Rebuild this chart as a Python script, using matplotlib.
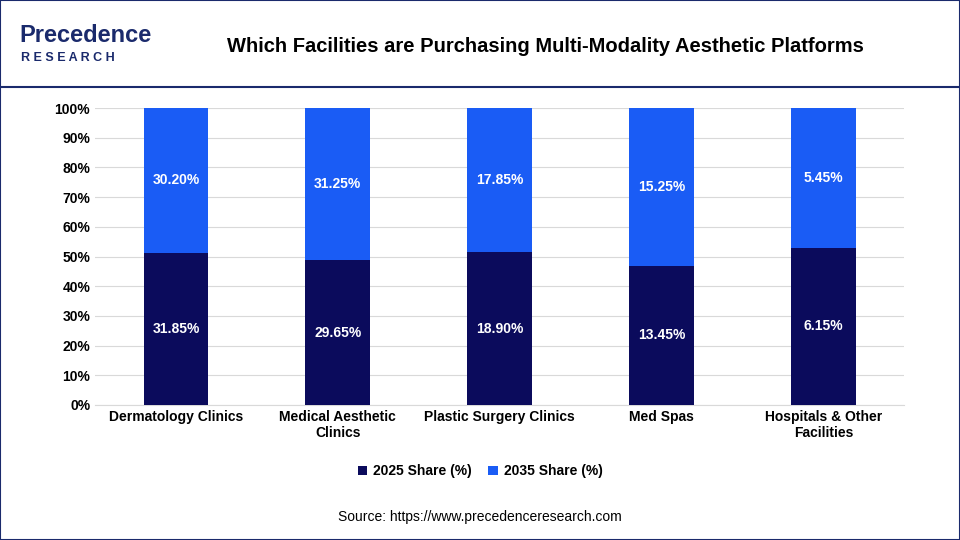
import matplotlib.pyplot as plt
import numpy as np

categories = ["Dermatology Clinics", "Medical Aesthetic\nClinics", "Plastic Surgery Clinics",
              "Med Spas", "Hospitals & Other\nFacilities"]
share_2025 = [31.85, 29.65, 18.90, 13.45, 6.15]
share_2035 = [30.20, 31.25, 17.85, 15.25, 5.45]

c2025 = "#0b0b5c"
c2035 = "#1a5cf5"

plt.rcParams['font.family'] = ['Liberation Sans', 'DejaVu Sans']
fig = plt.figure(figsize=(9.6, 5.4), dpi=100)
fig.patch.set_facecolor("white")

a = np.array(share_2025)
b = np.array(share_2035)
tot = a + b
pa = a / tot * 100
pb = b / tot * 100

ax = fig.add_axes([0.099, 0.25, 0.843, 0.55])
x = np.arange(len(categories))
ax.bar(x, pa, width=0.4, color=c2025, label="2025 Share (%)", zorder=3)
ax.bar(x, pb, width=0.4, bottom=pa, color=c2035, label="2035 Share (%)", zorder=3)
for i in range(len(x)):
    ax.text(x[i], pa[i] / 2, f"{share_2025[i]:.2f}%", ha="center", va="center",
            color="white", fontsize=10, fontweight="bold", zorder=4)
    ax.text(x[i], pa[i] + pb[i] / 2, f"{share_2035[i]:.2f}%", ha="center", va="center",
            color="white", fontsize=10, fontweight="bold", zorder=4)

ax.set_ylim(0, 100)
ax.set_xlim(-0.5, len(x) - 0.5)
ax.set_yticks(range(0, 101, 10))
ax.set_yticklabels([f"{v}%" for v in range(0, 101, 10)], fontsize=10, fontweight="bold")
ax.set_xticks(x)
ax.set_xticklabels(categories, fontsize=10, fontweight="bold")
ax.tick_params(length=0)
ax.grid(axis="y", color="#d9d9d9", linewidth=0.8, zorder=0)
for s in ["top", "right", "left"]:
    ax.spines[s].set_visible(False)
ax.spines["bottom"].set_color("#d9d9d9")

fig.legend(loc="center", bbox_to_anchor=(0.5, 0.127), ncol=2, frameon=False,
           prop={"size": 10, "weight": "bold"}, handlelength=0.7, handleheight=0.7,
           columnspacing=1.2, handletextpad=0.4)

fig.text(0.568, 0.913, "Which Facilities are Purchasing Multi-Modality Aesthetic Platforms",
         ha="center", va="center", fontsize=14.5, fontweight="bold")
fig.text(0.02, 0.935, "Precedence", fontsize=17, fontweight="bold", color="#1a2a6c", va="center")
fig.text(0.022, 0.893, "R E S E A R C H", fontsize=9, fontweight="bold", color="#1a2a6c", va="center")
fig.add_artist(plt.Line2D([0, 1], [0.838, 0.838], color="#1a2a6c", linewidth=1.5))
fig.add_artist(plt.Rectangle((0, 0), 1, 1, fill=False, edgecolor="#1a2a6c", linewidth=1.5))
fig.text(0.5, 0.042, "Source: https://www.precedenceresearch.com", ha="center", va="center",
         fontsize=10)

fig.savefig("out.png", dpi=100)
